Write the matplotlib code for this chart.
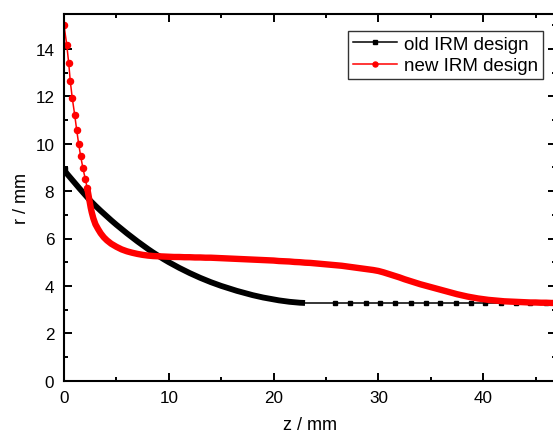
import matplotlib
matplotlib.use("Agg")
import matplotlib.pyplot as plt
from matplotlib.ticker import MultipleLocator
from matplotlib.lines import Line2D

plt.rcParams['font.family'] = ['Liberation Sans', 'DejaVu Sans']

# old IRM design
old_z = [0, 0.5, 1, 1.5, 2, 2.5, 3, 3.5, 4, 4.5, 5, 5.5, 6, 6.5, 7, 7.5, 8, 8.5, 9,
         9.5, 10, 10.5, 11, 11.5, 12, 12.5, 13, 13.5, 14, 14.5, 15, 15.5, 16, 16.5,
         17, 17.5, 18, 18.5, 19, 19.5, 20, 20.5, 21, 21.5, 22, 22.5, 23,
         25.9, 27.3, 28.8, 30.2, 31.6, 33.1, 34.5, 35.9, 37.4, 38.8, 40.2, 41.7,
         43.1, 44.5, 46.0, 47.4]
old_r = [8.88, 8.62, 8.36, 8.1, 7.85, 7.6, 7.38, 7.17, 6.97, 6.77, 6.58, 6.4, 6.22,
         6.05, 5.88, 5.72, 5.56, 5.41, 5.27, 5.13, 5.0, 4.88, 4.76, 4.65, 4.54,
         4.44, 4.34, 4.25, 4.16, 4.08, 4.0, 3.93, 3.86, 3.79, 3.73, 3.67, 3.61,
         3.56, 3.51, 3.47, 3.43, 3.39, 3.36, 3.33, 3.31, 3.29, 3.28,
         3.28, 3.28, 3.28, 3.28, 3.28, 3.28, 3.28, 3.28, 3.28, 3.28, 3.28, 3.28,
         3.28, 3.28, 3.28, 3.28]
old_dense_end = 23.0   # up to here the square markers merge into a band

# new IRM design
new_z = [0, 0.26, 0.45, 0.6, 0.79, 1.02, 1.21, 1.4, 1.59, 1.81, 2.03, 2.22, 2.35,
         2.45, 2.55, 2.65, 2.8, 3.0, 3.25, 3.5, 3.8, 4.1, 4.5, 5.0, 5.5, 6.0, 6.5,
         7.0, 7.5, 8.0, 8.5, 9.0, 9.5, 10, 10.5, 11, 11.5, 12, 12.5, 13, 13.5, 14,
         14.5, 15, 15.5, 16, 16.5, 17, 17.5, 18, 18.5, 19, 19.5, 20, 20.5, 21,
         21.5, 22, 22.5, 23, 23.5, 24, 24.5, 25, 25.5, 26, 26.5, 27, 27.5, 28,
         28.5, 29, 29.5, 30, 30.5, 31, 31.5, 32, 32.5, 33, 33.5, 34, 34.5, 35,
         35.5, 36, 36.5, 37, 37.5, 38, 38.5, 39, 39.5, 40, 40.5, 41, 41.5, 42,
         42.5, 43, 43.5, 44, 44.5, 45, 45.5, 46, 46.5, 47]
new_r = [15.0, 14.18, 13.4, 12.63, 11.92, 11.22, 10.58, 9.99, 9.47, 8.96, 8.51,
         8.12, 7.8, 7.55, 7.3, 7.1, 6.85, 6.6, 6.4, 6.22, 6.05, 5.92, 5.78, 5.65,
         5.54, 5.46, 5.4, 5.35, 5.31, 5.28, 5.26, 5.25, 5.24, 5.23, 5.22, 5.22,
         5.21, 5.21, 5.2, 5.2, 5.19, 5.19, 5.18, 5.17, 5.16, 5.15, 5.14, 5.13,
         5.12, 5.11, 5.1, 5.09, 5.08, 5.07, 5.05, 5.04, 5.03, 5.01, 5.0, 4.98,
         4.97, 4.95, 4.93, 4.91, 4.89, 4.87, 4.85, 4.82, 4.79, 4.76, 4.73, 4.7,
         4.67, 4.63, 4.57, 4.5, 4.43, 4.36, 4.28, 4.21, 4.14, 4.07, 4.01, 3.95,
         3.89, 3.83, 3.77, 3.71, 3.65, 3.6, 3.55, 3.51, 3.47, 3.44, 3.41, 3.39,
         3.37, 3.35, 3.34, 3.33, 3.32, 3.31, 3.3, 3.3, 3.29, 3.29, 3.28, 3.28]
new_dense_start = 2.22  # from here the circle markers merge into a band

labels = ['old IRM design', 'new IRM design']

W, H = 553, 435
fig = plt.figure(figsize=(W / 100, H / 100), dpi=100)
left, right, top, bottom = 64, 556, 15, 381.7
ax = fig.add_axes([left / W, (H - bottom) / H, (right - left) / W, (bottom - top) / H])

band_w = 4.2

# old design: dense band then thin line with sparse squares
od = [i for i, z in enumerate(old_z) if z <= old_dense_end]
os_ = [i for i, z in enumerate(old_z) if z >= old_dense_end]
ax.plot([old_z[i] for i in od], [old_r[i] for i in od], color='black',
        linewidth=band_w, solid_capstyle='butt', solid_joinstyle='round')
ax.plot([old_z[i] for i in os_], [old_r[i] for i in os_], color='black',
        linewidth=1.1, marker='s', markersize=3.3, markevery=slice(1, None))
ax.plot([old_z[0]], [old_r[0]], color='black', marker='s', markersize=4.0, linestyle='none')

# new design: thin line with circles, then dense band
ns = [i for i, z in enumerate(new_z) if z <= new_dense_start]
nd = [i for i, z in enumerate(new_z) if z >= new_dense_start]
ax.plot([new_z[i] for i in ns], [new_r[i] for i in ns], color='red',
        linewidth=1.1, marker='o', markersize=4.4)
ax.plot([new_z[i] for i in nd], [new_r[i] for i in nd], color='red',
        linewidth=4.6, solid_capstyle='round', solid_joinstyle='round')

ax.set_xlim(0, (right - left) / 10.48)
ax.set_ylim(0, (bottom - top) / 23.7)
ax.xaxis.set_major_locator(MultipleLocator(10))
ax.xaxis.set_minor_locator(MultipleLocator(5))
ax.yaxis.set_major_locator(MultipleLocator(2))
ax.yaxis.set_minor_locator(MultipleLocator(1))
ax.tick_params(which='both', direction='in', top=True, right=True, width=1.4,
               labelsize=12.3, colors='black')
ax.tick_params(which='major', length=5.5, pad=7)
ax.tick_params(which='minor', length=3)
for s in ax.spines.values():
    s.set_linewidth(1.5)

ax.set_xlabel('z / mm', fontsize=13, labelpad=7.5)
ax.set_ylabel('r / mm', fontsize=13, labelpad=4)

handles = [Line2D([], [], color='black', linewidth=1.1, marker='s', markersize=3.3),
           Line2D([], [], color='red', linewidth=1.1, marker='o', markersize=3.6)]
leg = ax.legend(handles, labels, loc='upper right', bbox_to_anchor=(543 / W, 1 - 31.7 / H),
                bbox_transform=fig.transFigure, fontsize=13.5, frameon=True,
                fancybox=False, shadow=False, borderaxespad=0, borderpad=0.25,
                handlelength=2.35, handletextpad=0.4, labelspacing=0.25)
leg.get_frame().set_edgecolor('black')
leg.get_frame().set_linewidth(1.0)

fig.savefig('out.png', dpi=100)
